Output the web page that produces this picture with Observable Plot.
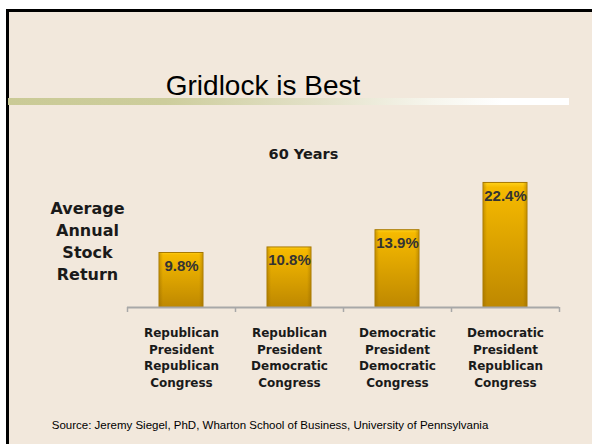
<!DOCTYPE html>
<html><head><meta charset="utf-8">
<script src="https://cdn.jsdelivr.net/npm/d3@7"></script>
<script src="https://cdn.jsdelivr.net/npm/@observablehq/plot@0.6"></script>
<style>
html,body{margin:0;padding:0;background:#fff;width:592px;height:444px;overflow:hidden;position:relative;}
#slide{position:absolute;left:6px;top:9px;width:586px;height:435px;background:#F2E8DC;border-left:3px solid #000;border-top:3px solid #000;box-sizing:border-box;}
#title{position:absolute;left:0;top:72px;width:526px;text-align:center;font:28px/28px "Liberation Sans",Arial,sans-serif;color:#000;}
#rule{position:absolute;left:8px;top:98px;width:561px;height:7px;background:linear-gradient(to right,#CACA96 0%,#CDCD9C 28%,#E3E1C8 55%,#F6F5EC 75%,#FFFFFF 88%,#FFFFFF 100%);}
#chart{position:absolute;left:0;top:120px;}
#caption{position:absolute;left:0;top:418px;width:540px;text-align:center;font:11.5px/14px "Liberation Sans",Arial,sans-serif;color:#000;}
</style></head>
<body>
<div id="slide"></div>
<div id="title">Gridlock is Best</div>
<div id="rule"></div>
<div id="chart"></div>
<div id="caption">Source: Jeremy Siegel, PhD, Wharton School of Business, University of Pennsylvania</div>
<script>
const categories = [
  "Republican\nPresident\nRepublican\nCongress",
  "Republican\nPresident\nDemocratic\nCongress",
  "Democratic\nPresident\nDemocratic\nCongress",
  "Democratic\nPresident\nRepublican\nCongress"
];
const returns = [9.8, 10.8, 13.9, 22.4];
const valueLabels = ["9.8%", "10.8%", "13.9%", "22.4%"];
const subtitle = "60 Years";
const yLabel = "Average\nAnnual\nStock\nReturn";

const data = categories.map((c, i) => ({cat: c, value: returns[i], label: valueLabels[i]}));

const svg = Plot.plot({
  width: 592, height: 290,
  marginLeft: 127, marginRight: 33, marginTop: 48, marginBottom: 103,
  style: {background: "transparent", overflow: "visible", color: "#1a1a1a"},
  x: {domain: categories, paddingInner: 0.593, paddingOuter: 0.2965, axis: null},
  y: {domain: [0, 25], axis: null},
  marks: [
    Plot.barY(data, {x: "cat", y: "value", fill: "url(#gold)", stroke: "#A87800", strokeWidth: 1}),
    Plot.barY(data, {x: "cat", y: "value", fill: "url(#edge)", insetLeft: 0.5, insetRight: 0.5}),
    Plot.ruleY([0], {stroke: "#A8A8A8", strokeWidth: 2}),
    Plot.ruleX(categories, {x: d => d, y1: 0, y2: -0.9, dx: -54, stroke: "#A8A8A8", strokeWidth: 1.5}),
    Plot.ruleX([categories[categories.length - 1]], {x: d => d, y1: 0, y2: -0.9, dx: 54, stroke: "#A8A8A8", strokeWidth: 1.5}),
    Plot.text(data, {x: "cat", y: "value", text: "label", dy: 13, fontSize: 15, fontWeight: "bold", fill: "#333", fontFamily: "Liberation Sans, Arial, sans-serif"}),
    Plot.axisX({tickSize: 0, tickPadding: 18, fontSize: 12, fontWeight: "bold", fontFamily: "DejaVu Sans, sans-serif", lineHeight: 1.375, label: null, fill: "#1a1a1a"}),
    Plot.text([subtitle], {frameAnchor: "top", dx: -40, dy: -20, fontSize: 14.5, fontWeight: "bold", fontFamily: "DejaVu Sans, sans-serif", fill: "#1a1a1a"}),
    Plot.text([yLabel], {frameAnchor: "left", textAnchor: "middle", dx: -40, dy: 2, fontSize: 16, lineHeight: 1.375, fontWeight: "bold", fontFamily: "DejaVu Sans, sans-serif", fill: "#1a1a1a"})
  ]
});

const defs = d3.select(svg).insert("defs", ":first-child");
const g = defs.append("linearGradient").attr("id", "gold").attr("x1", 0).attr("y1", 0).attr("x2", 0).attr("y2", 1);
g.append("stop").attr("offset", "0").attr("stop-color", "#FFD21C");
g.append("stop").attr("offset", "0.04").attr("stop-color", "#F6BA00");
g.append("stop").attr("offset", "1").attr("stop-color", "#BE8800");
const e = defs.append("linearGradient").attr("id", "edge").attr("x1", 0).attr("y1", 0).attr("x2", 1).attr("y2", 0);
e.append("stop").attr("offset", "0").attr("stop-color", "#8A6000").attr("stop-opacity", 0.35);
e.append("stop").attr("offset", "0.08").attr("stop-color", "#8A6000").attr("stop-opacity", 0);
e.append("stop").attr("offset", "0.92").attr("stop-color", "#8A6000").attr("stop-opacity", 0);
e.append("stop").attr("offset", "1").attr("stop-color", "#8A6000").attr("stop-opacity", 0.35);

document.getElementById("chart").appendChild(svg);
</script>
</body></html>
